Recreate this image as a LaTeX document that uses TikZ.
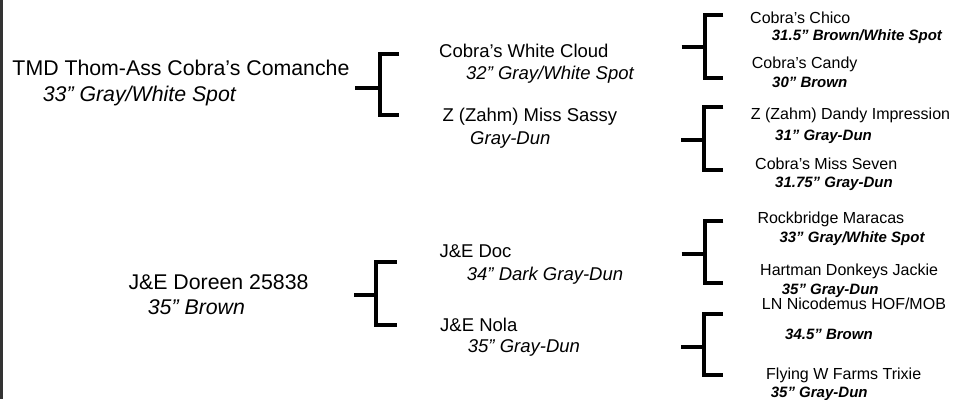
\documentclass[tikz,border=0pt]{standalone}
\usepackage{fontspec}
\setmainfont{Liberation Sans}

\begin{document}
\begin{tikzpicture}[x=1pt, y=-1pt,
	every node/.style={anchor=base west, inner sep=0pt},
	gena/.style={font=\fontsize{21.3}{25}\selectfont},
	genai/.style={font=\fontsize{21.3}{25}\selectfont\itshape},
	genb/.style={font=\fontsize{18.5}{22}\selectfont},
	genbi/.style={font=\fontsize{18.5}{22}\selectfont\itshape},
	genc/.style={font=\fontsize{16}{19}\selectfont},
	genci/.style={font=\fontsize{15}{18}\selectfont\bfseries\itshape},
	bracket/.style={line width=4pt, line join=miter}]
		\useasboundingbox (0,0) rectangle (953,399);
		\draw[black!80, line width=2.5pt] (1.25,0) -- (1.25,399);
		% first generation
		\node[gena] (comanche) at (12.3,75) {TMD Thom-Ass Cobra’s Comanche};
		\node[genai] (comanche-i) at (42.7,101.5) {33” Gray/White Spot};
		\node[gena] (doreen) at (128.3,289.7) {J\&E Doreen 25838};
		\node[genai] (doreen-i) at (147.7,314) {35” Brown};
		% second generation
		\node[genb] (cloud) at (439,57.3) {Cobra’s White Cloud};
		\node[genbi] (cloud-i) at (466,79.3) {32” Gray/White Spot};
		\node[genb] (sassy) at (442.3,121.7) {Z (Zahm) Miss Sassy};
		\node[genbi] (sassy-i) at (470,144) {Gray-Dun};
		\node[genb] (doc) at (439.3,257.7) {J\&E Doc};
		\node[genbi] (doc-i) at (466.7,280) {34” Dark Gray-Dun};
		\node[genb] (nola) at (440,331) {J\&E Nola};
		\node[genbi] (nola-i) at (467.7,352) {35” Gray-Dun};
		% third generation
		\node[genc] (chico) at (750,23.3) {Cobra’s Chico};
		\node[genci] (chico-i) at (771.7,40.7) {31.5” Brown/White Spot};
		\node[genc] (candy) at (751.7,68.3) {Cobra’s Candy};
		\node[genci] (candy-i) at (772,87.3) {30” Brown};
		\node[genc] (dandy) at (750.7,119.3) {Z (Zahm) Dandy Impression};
		\node[genci] (dandy-i) at (775,140) {31” Gray-Dun};
		\node[genc] (seven) at (755,169.3) {Cobra’s Miss Seven};
		\node[genci] (seven-i) at (775,187.3) {31.75” Gray-Dun};
		\node[genc] (maracas) at (757.3,223) {Rockbridge Maracas};
		\node[genci] (maracas-i) at (779.3,242.3) {33” Gray/White Spot};
		\node[genc] (jackie) at (760,275) {Hartman Donkeys Jackie};
		\node[genci] (jackie-i) at (781.7,294) {35” Gray-Dun};
		\node[genc] (nicodemus) at (761.7,309) {LN Nicodemus HOF/MOB};
		\node[genci] (nicodemus-i) at (785,339) {34.5” Brown};
		\node[genc] (trixie) at (766,379) {Flying W Farms Trixie};
		\node[genci] (trixie-i) at (770.7,397.3) {35” Gray-Dun};
		% bracket ends
		\coordinate (b1s) at (355,88);
		\coordinate (b1v) at (379.7,88);
		\coordinate (b1t) at (399,53.7);
		\coordinate (b1u) at (399,115.3);
		\coordinate (b2s) at (354,295.3);
		\coordinate (b2v) at (376.3,295.3);
		\coordinate (b2t) at (396.7,262);
		\coordinate (b2u) at (396.7,325.3);
		\coordinate (b3s) at (681.7,47);
		\coordinate (b3v) at (704.7,47);
		\coordinate (b3t) at (723.3,14.7);
		\coordinate (b3u) at (723.3,78);
		\coordinate (b4s) at (681,139.7);
		\coordinate (b4v) at (703.7,139.7);
		\coordinate (b4t) at (723.3,107.3);
		\coordinate (b4u) at (723.3,169.7);
		\coordinate (b5s) at (681.7,254.3);
		\coordinate (b5v) at (704.7,254.3);
		\coordinate (b5t) at (723.3,221);
		\coordinate (b5u) at (723.3,282.7);
		\coordinate (b6s) at (681,346.7);
		\coordinate (b6v) at (703.7,346.7);
		\coordinate (b6t) at (722.7,314.3);
		\coordinate (b6u) at (722.7,375.3);
		% brackets
		\draw[bracket] (b1s) -- (b1v) (b1t) -- (b1t -| b1v) -- (b1u -| b1v) -- (b1u);
		\draw[bracket] (b2s) -- (b2v) (b2t) -- (b2t -| b2v) -- (b2u -| b2v) -- (b2u);
		\draw[bracket] (b3s) -- (b3v) (b3t) -- (b3t -| b3v) -- (b3u -| b3v) -- (b3u);
		\draw[bracket] (b4s) -- (b4v) (b4t) -- (b4t -| b4v) -- (b4u -| b4v) -- (b4u);
		\draw[bracket] (b5s) -- (b5v) (b5t) -- (b5t -| b5v) -- (b5u -| b5v) -- (b5u);
		\draw[bracket] (b6s) -- (b6v) (b6t) -- (b6t -| b6v) -- (b6u -| b6v) -- (b6u);
	\end{tikzpicture}
\end{document}
